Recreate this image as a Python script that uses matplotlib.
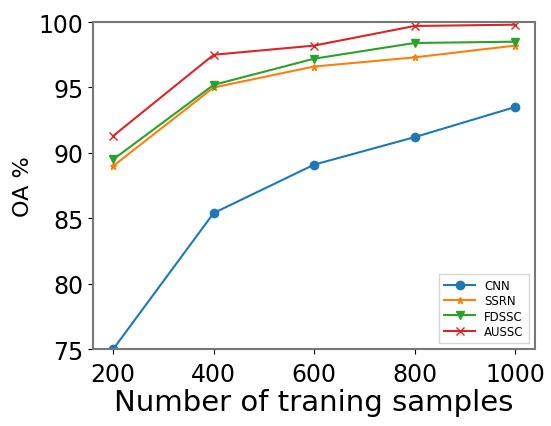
import numpy as np
import matplotlib.pyplot as plt

samples = [200, 400, 600, 800, 1000]
cnn = [75.0, 85.4, 89.1, 91.2, 93.5]
ssrn = [89.0, 95.0, 96.6, 97.3, 98.2]
fdssc = [89.5, 95.2, 97.2, 98.4, 98.5]
aussc = [91.3, 97.5, 98.2, 99.7, 99.8]

fig = plt.figure(figsize=(5.51, 4.27), dpi=100)
ax = fig.add_axes([0.169, 0.18, 0.802, 0.766])

ax.plot(samples, cnn, marker='o', markersize=6, label='CNN')
ax.plot(samples, ssrn, marker='*', markersize=5, label='SSRN')
ax.plot(samples, fdssc, marker='v', markersize=6, label='FDSSC')
ax.plot(samples, aussc, marker='x', markersize=6, label='AUSSC')

ax.set_ylim(75, 100)
ax.set_xticks(samples)
ax.set_yticks([75, 80, 85, 90, 95, 100])
ax.tick_params(labelsize=17)
ax.tick_params(axis='x', pad=6)
for s in ax.spines.values():
    s.set_color('#777777')
    s.set_linewidth(1.5)

ax.set_xlabel('Number of traning samples', fontsize=21, labelpad=1)
ax.set_ylabel('OA %', fontsize=16)
ax.legend(loc='lower right', fontsize=8.5, handlelength=2.6, labelspacing=0.2,
          borderpad=0.45, fancybox=False, edgecolor='#cccccc')

fig.savefig('out.png', dpi=100)
